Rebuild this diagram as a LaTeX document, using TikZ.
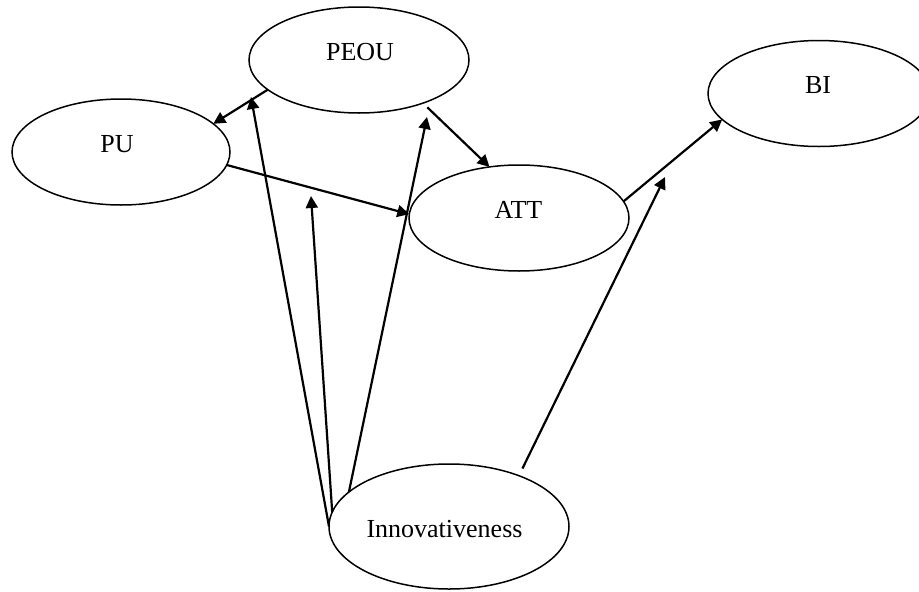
\documentclass[tikz,border=0pt]{standalone}
\usepackage{fontspec}
\setmainfont{Liberation Serif}
\usetikzlibrary{arrows.meta,shapes.geometric}
\begin{document}
\begin{tikzpicture}[x=1pt,y=-1pt,
  ell/.style={draw, ellipse, line width=1.5pt, inner sep=0pt, outer sep=0pt},
  lbl/.style={inner sep=0pt, font=\fontsize{26}{30}\selectfont},
  arr/.style={line width=2.2pt, -{Triangle[length=12pt,width=12pt]}}]
\useasboundingbox (0,0) rectangle (919,592);
% ellipses
\node[ell, minimum width=220pt, minimum height=106pt] (peou) at (359,60) {};
\node[ell, minimum width=218pt, minimum height=106pt] (pu) at (121,152) {};
\node[ell, minimum width=220pt, minimum height=106pt] (att) at (519,218) {};
\node[ell, minimum width=222pt, minimum height=106pt] (bi) at (819,93.5) {};
\node[ell, minimum width=240pt, minimum height=125pt] (innov) at (449,526.5) {};
% labels
\node[lbl] (peoul) at (360,52.5) {PEOU};
\node[lbl] (pul) at (117,144) {PU};
\node[lbl] (attl) at (518.5,210) {ATT};
\node[lbl] (bil) at (818,85.5) {BI};
\node[lbl] (innovl) at (444.5,529.5) {Innovativeness};
% free ends of moderating arrows
\coordinate (m1) at (251,97);
\coordinate (m2) at (311,196);
\coordinate (m3) at (427,117);
\coordinate (m4) at (665,177);
% main paths
\draw[arr] (peou.198) -- (pu.17);
\draw[arr, shorten <=6pt] (peou.-34) -- (att.120);
\draw[arr] (pu.-7) -- (att.178);
\draw[arr] (att.9) -- (bi.195);
% moderating arrows
\draw[arr] (innov.180) -- (m1);
\draw[arr] (innov.173) -- (m2);
\draw[arr] (innov.161) -- (m3);
\draw[arr, shorten <=8pt] (innov.36) -- (m4);
\end{tikzpicture}
\end{document}
